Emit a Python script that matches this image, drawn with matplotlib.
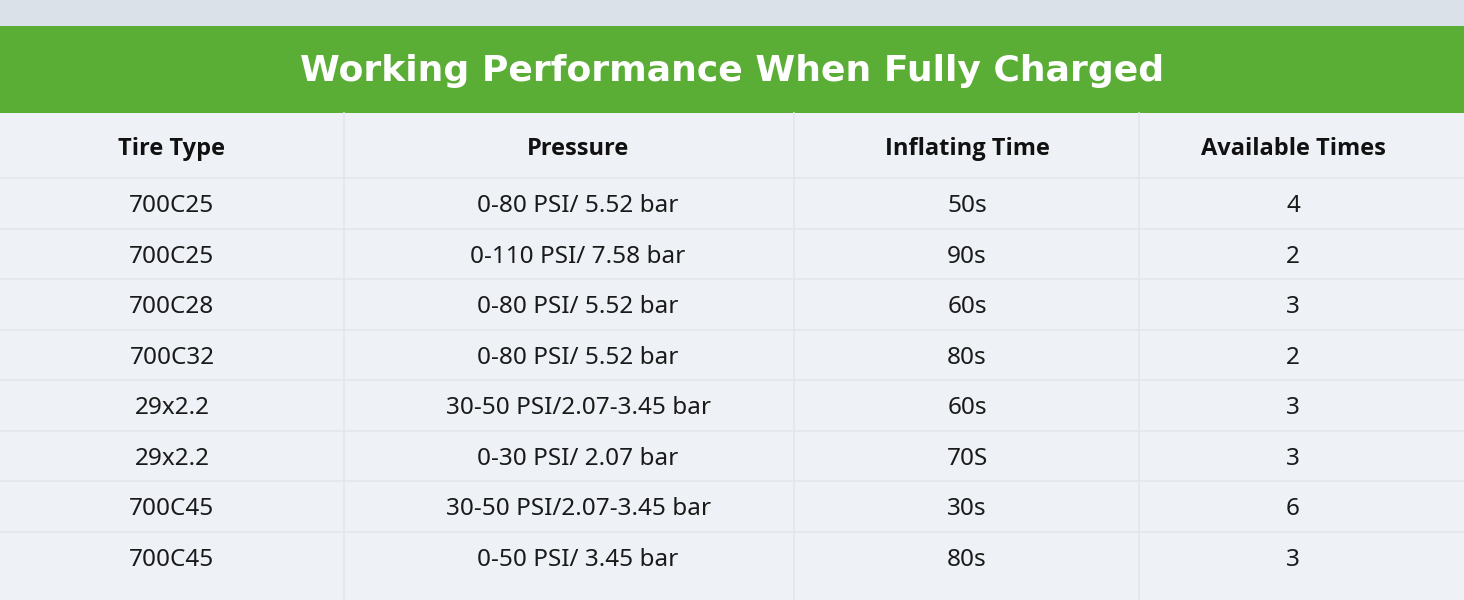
import matplotlib
matplotlib.use("Agg")
import matplotlib.pyplot as plt
from matplotlib.patches import Rectangle

title = "Working Performance When Fully Charged"
headers = ["Tire Type", "Pressure", "Inflating Time", "Available Times"]
tire_type = ["700C25", "700C25", "700C28", "700C32", "29x2.2", "29x2.2", "700C45", "700C45"]
pressure = ["0-80 PSI/ 5.52 bar", "0-110 PSI/ 7.58 bar", "0-80 PSI/ 5.52 bar", "0-80 PSI/ 5.52 bar",
            "30-50 PSI/2.07-3.45 bar", "0-30 PSI/ 2.07 bar", "30-50 PSI/2.07-3.45 bar", "0-50 PSI/ 3.45 bar"]
inflating_time = ["50s", "90s", "60s", "80s", "60s", "70S", "30s", "80s"]
available_times = ["4", "2", "3", "2", "3", "3", "6", "3"]

W, H = 1464, 600
col_edges = [0, 344, 794, 1139, 1464]
header_top, header_bot = 113, 178
row_h = 50.5

fig = plt.figure(figsize=(14.64, 6), dpi=100)
ax = fig.add_axes([0, 0, 1, 1])
ax.set_xlim(0, W); ax.set_ylim(H, 0); ax.axis("off")
fig.patch.set_facecolor("#eef1f6")

ax.add_patch(Rectangle((0, 0), W, 26, color="#dbe1e8", lw=0))
ax.add_patch(Rectangle((0, 26), W, 87, color="#5aad35", lw=0))
ax.text(W / 2, 71, title, ha="center", va="center", color="white",
        fontsize=26, fontweight="bold", family="DejaVu Sans")

for x in col_edges[1:-1]:
    ax.plot([x, x], [header_top, H], color="#e2e6ec", lw=1.2)
for i in range(len(tire_type)):
    y = header_bot + i * row_h
    ax.plot([0, W], [y, y], color="#e2e6ec", lw=1.2)

centers = [172, 578, 967, 1293]
for c, h in zip(centers, headers):
    ax.text(c, 149, h, ha="center", va="center", fontsize=17, fontweight="bold",
            color="#111111", family="Open Sans")

cols = [tire_type, pressure, inflating_time, available_times]
for i in range(len(tire_type)):
    yc = header_bot + (i + 0.5) * row_h + 3
    for c, col in zip(centers, cols):
        ax.text(c, yc, col[i], ha="center", va="center", fontsize=17.5,
                color="#1a1a1a", family="Noto Sans")

fig.savefig("out.png", dpi=100, facecolor=fig.get_facecolor())
